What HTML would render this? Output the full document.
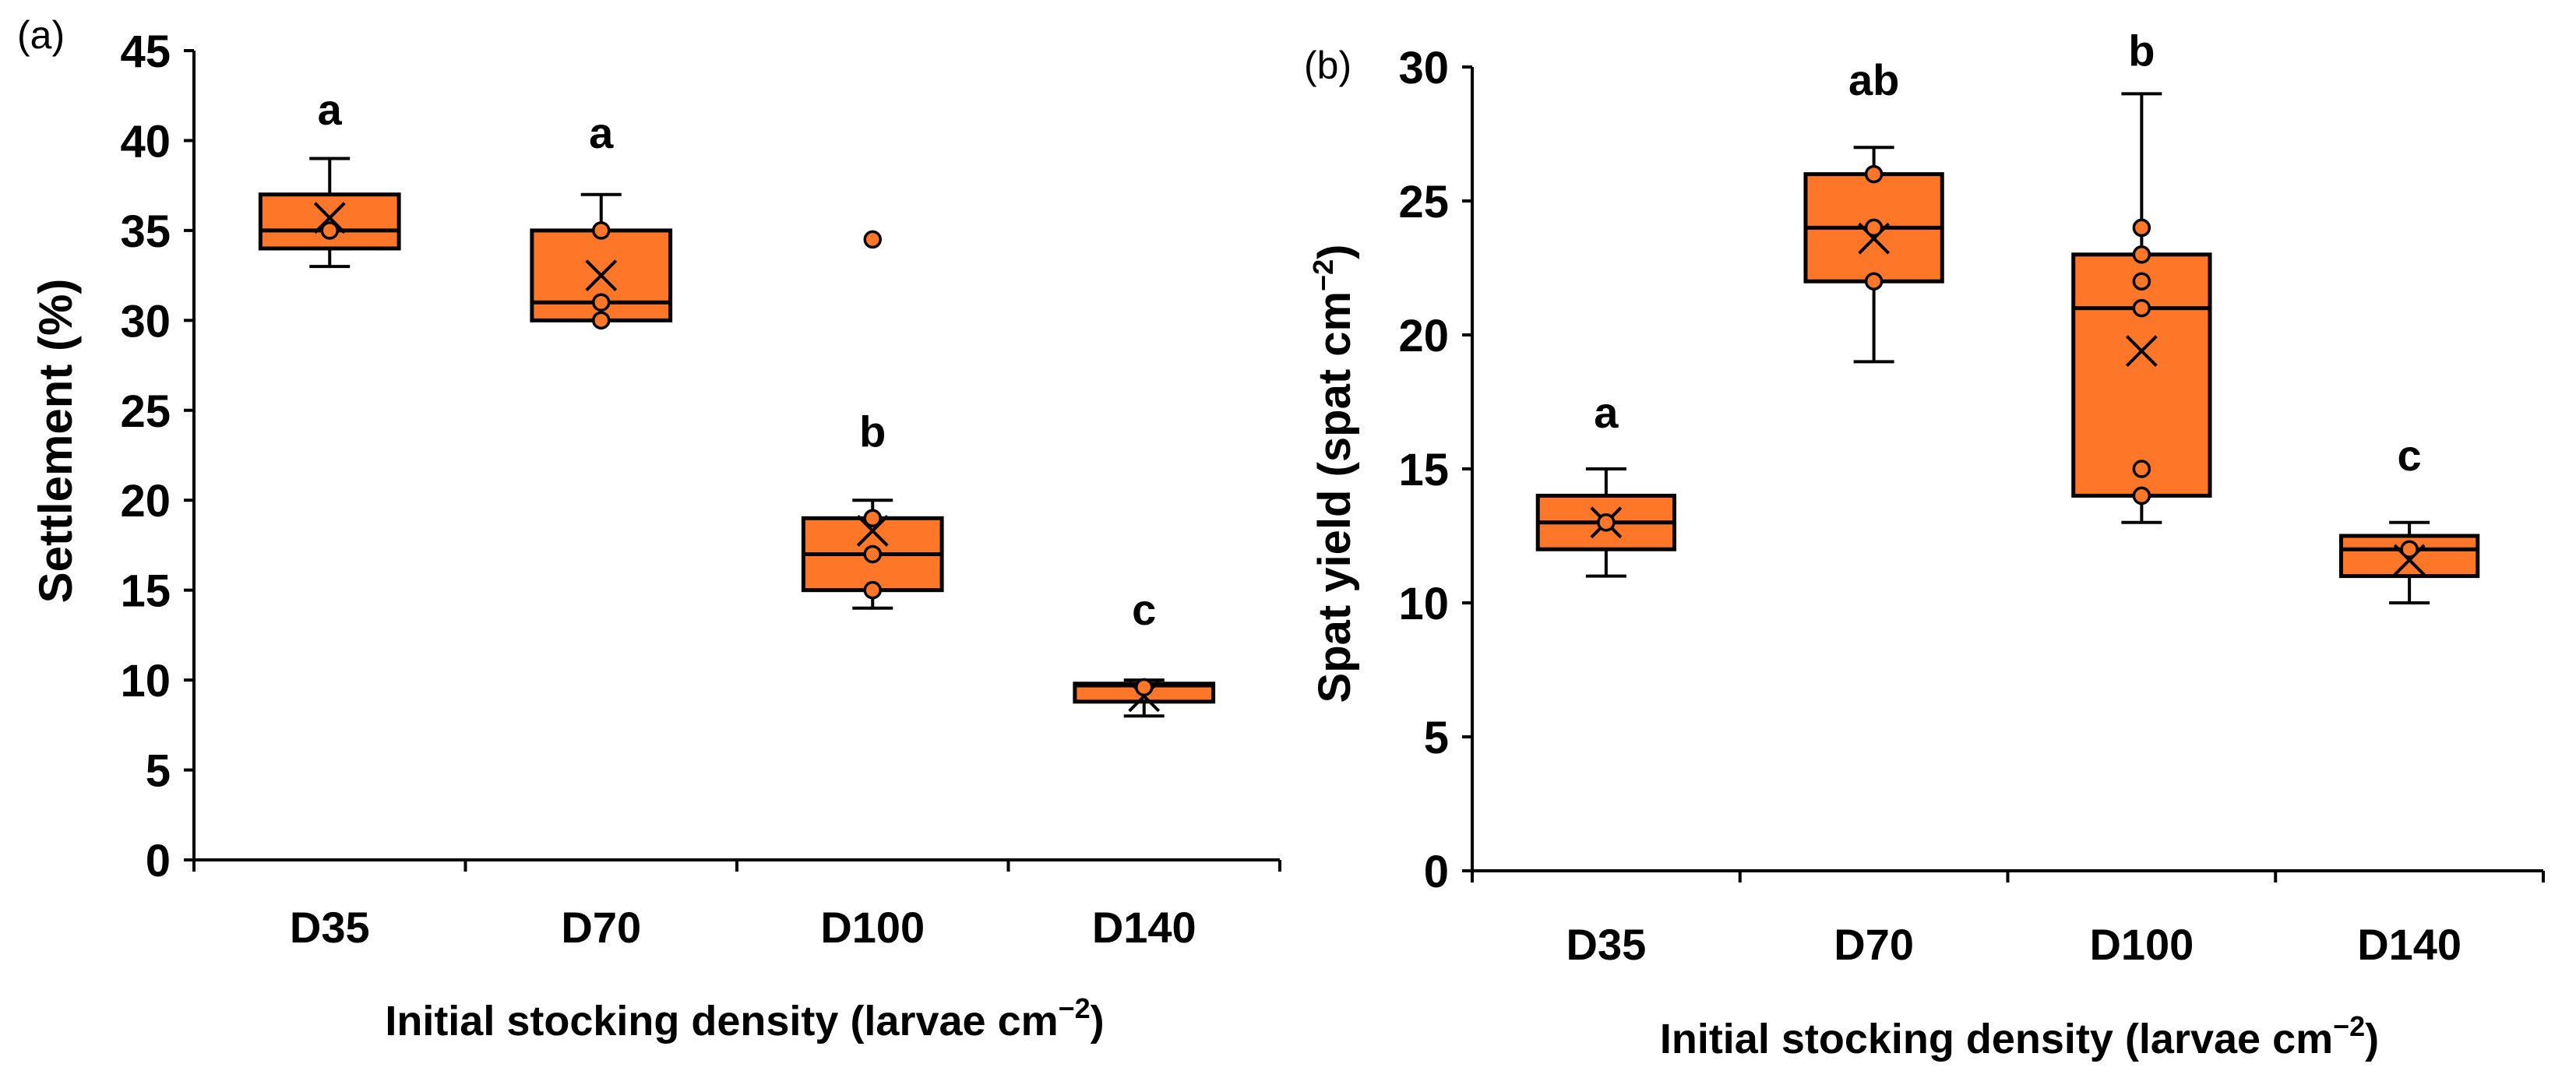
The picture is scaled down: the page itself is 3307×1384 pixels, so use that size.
<!DOCTYPE html>
<html><head><meta charset="utf-8"><style>
html,body{margin:0;padding:0;background:#fff;}
svg{display:block;font-family:"Liberation Sans",Arial,sans-serif;}
</style></head><body>
<svg id="fig" width="3307" height="1384" viewBox="0 0 3307 1384" xmlns="http://www.w3.org/2000/svg"></svg>
<script>
const categories = ["D35","D70","D100","D140"];
// Panel (a) Settlement (%)
const aMin    = [33, 30, 14, 8];
const aQ1     = [34, 30, 15, 8.8];
const aMed    = [35, 31, 17, 9.7];
const aQ3     = [37, 35, 19, 9.8];
const aMax    = [39, 37, 20, 10];
const aMean   = [35.7, 32.5, 18.3, 9.1];
const aPoints = [[35],[30,31,35],[15,17,19,34.5],[9.6]];
const aLetters = ["a","a","b","c"];
const aLetterY = [41.7, 40.4, 23.8, 13.9];
const aTicks = [0,5,10,15,20,25,30,35,40,45];
// Panel (b) Spat yield
const bMin    = [11, 19, 13, 10];
const bQ1     = [12, 22, 14, 11];
const bMed    = [13, 24, 21, 12];
const bQ3     = [14, 26, 23, 12.5];
const bMax    = [15, 27, 29, 13];
const bMean   = [13, 23.6, 19.4, 11.6];
const bPoints = [[13],[22,24,26],[14,15,21,22,23,24],[12]];
const bLetters = ["a","ab","b","c"];
const bLetterY = [17.1, 29.5, 30.6, 15.5];
const bTicks = [0,5,10,15,20,25,30];

const NS="http://www.w3.org/2000/svg";
const svg=document.getElementById('fig');
function mk(tag,attrs,parent,text){const e=document.createElementNS(NS,tag);for(const k in attrs)e.setAttribute(k,attrs[k]);if(text!==undefined)e.textContent=text;(parent||svg).appendChild(e);return e;}
const ORANGE="#FE7628";

function panel(cfg){
  const g=mk('g',{},svg);
  
  
  const y=v=>cfg.y0-(v/cfg.ymax)*(cfg.y0-cfg.yTop);
  const cw=cfg.w/categories.length;
  const x=i=>cfg.x0+cw*(i+0.5);
  let e=mk('line',{x1:cfg.x0,y1:y(cfg.ymax),x2:cfg.x0,y2:cfg.y0,stroke:'#000','stroke-width':4},g);
  
  e=mk('line',{x1:cfg.x0,y1:cfg.y0,x2:cfg.x0+cfg.w,y2:cfg.y0,stroke:'#000','stroke-width':4},g);
  
  cfg.ticks.forEach(t=>{
    mk('line',{x1:cfg.x0-13,y1:y(t),x2:cfg.x0,y2:y(t),stroke:'#000','stroke-width':4},g);
    const l=mk('text',{x:cfg.x0-30,y:y(t)+21,'text-anchor':'end','font-size':58,'font-weight':'bold'},g,String(t));
    
  });
  for(let i=0;i<=categories.length;i++){
    mk('line',{x1:cfg.x0+cw*i,y1:cfg.y0,x2:cfg.x0+cw*i,y2:cfg.y0+15,stroke:'#000','stroke-width':4},g);
  }
  categories.forEach((c,i)=>{
    const l=mk('text',{x:x(i),y:cfg.catY,'text-anchor':'middle','font-size':56,'font-weight':'bold'},g,c);
    
    const bw=cw*0.51, cap=26;
    const bg=mk('g',{},g);
    
    mk('line',{x1:x(i),y1:y(cfg.max[i]),x2:x(i),y2:y(cfg.q3[i]),stroke:'#000','stroke-width':4},bg);
    mk('line',{x1:x(i),y1:y(cfg.min[i]),x2:x(i),y2:y(cfg.q1[i]),stroke:'#000','stroke-width':4},bg);
    mk('line',{x1:x(i)-cap,y1:y(cfg.max[i]),x2:x(i)+cap,y2:y(cfg.max[i]),stroke:'#000','stroke-width':4},bg);
    mk('line',{x1:x(i)-cap,y1:y(cfg.min[i]),x2:x(i)+cap,y2:y(cfg.min[i]),stroke:'#000','stroke-width':4},bg);
    mk('rect',{x:x(i)-bw/2,y:y(cfg.q3[i]),width:bw,height:y(cfg.q1[i])-y(cfg.q3[i]),fill:ORANGE,stroke:'#000','stroke-width':5},bg);
    mk('line',{x1:x(i)-bw/2,y1:y(cfg.med[i]),x2:x(i)+bw/2,y2:y(cfg.med[i]),stroke:'#000','stroke-width':5},bg);
    const m=y(cfg.mean[i]),s=19;
    const mx=mk('path',{d:`M${x(i)-s},${m-s}L${x(i)+s},${m+s}M${x(i)+s},${m-s}L${x(i)-s},${m+s}`,stroke:'#000','stroke-width':4,fill:'none'},bg);
    
    cfg.pts[i].forEach(p=>{
      const c2=mk('circle',{cx:x(i),cy:y(p),r:10,fill:ORANGE,stroke:'#000','stroke-width':3.5},bg);
      
    });
    const lt=mk('text',{x:x(i),y:y(cfg.letY[i])+19,'text-anchor':'middle','font-size':56,'font-weight':'bold'},g,cfg.letters[i]);
    
  });
  let t=mk('text',{x:cfg.x0+cfg.w/2-cfg.xtOff,y:cfg.xtY,'text-anchor':'middle','font-size':54,'font-weight':'bold'},g);
  
  mk('tspan',{},t,'Initial stocking density (larvae cm');
  mk('tspan',{dy:-22,'font-size':36},t,'−2');
  mk('tspan',{dy:22},t,')');
  t=mk('text',{x:0,y:0,'text-anchor':'middle','font-size':cfg.ytFs,'font-weight':'bold',transform:`translate(${cfg.ytX},${cfg.ytY}) rotate(-90)`},g);
  
  if(cfg.ytSup){mk('tspan',{},t,cfg.ytText);mk('tspan',{dy:-22,'font-size':36},t,'−2');mk('tspan',{dy:22},t,')');}
  else mk('tspan',{},t,cfg.ytText);
  t=mk('text',{x:cfg.plX,y:cfg.plY,'font-size':50},g,cfg.pl);
  
}

panel({name:'panel-a-settlement',x0:249,w:1394,y0:1104,yTop:65,ymax:45,ticks:aTicks,
  min:aMin,q1:aQ1,med:aMed,q3:aQ3,max:aMax,mean:aMean,pts:aPoints,letters:aLetters,letY:aLetterY,
  catY:1210,xtY:1329,xtOff:-10,ytX:92,ytY:566,ytFs:60,ytText:'Settlement (%)',ytSup:false,
  pl:'(a)',plX:22,plY:62});
panel({name:'panel-b-spat-yield',x0:1890,w:1375,y0:1118,yTop:86,ymax:30,ticks:bTicks,
  min:bMin,q1:bQ1,med:bMed,q3:bQ3,max:bMax,mean:bMean,pts:bPoints,letters:bLetters,letY:bLetterY,
  catY:1232,xtY:1352,xtOff:-15,ytX:1733,ytY:608,ytFs:58,ytText:'Spat yield (spat cm',ytSup:true,
  pl:'(b)',plX:1674,plY:101});
</script>
</body></html>
